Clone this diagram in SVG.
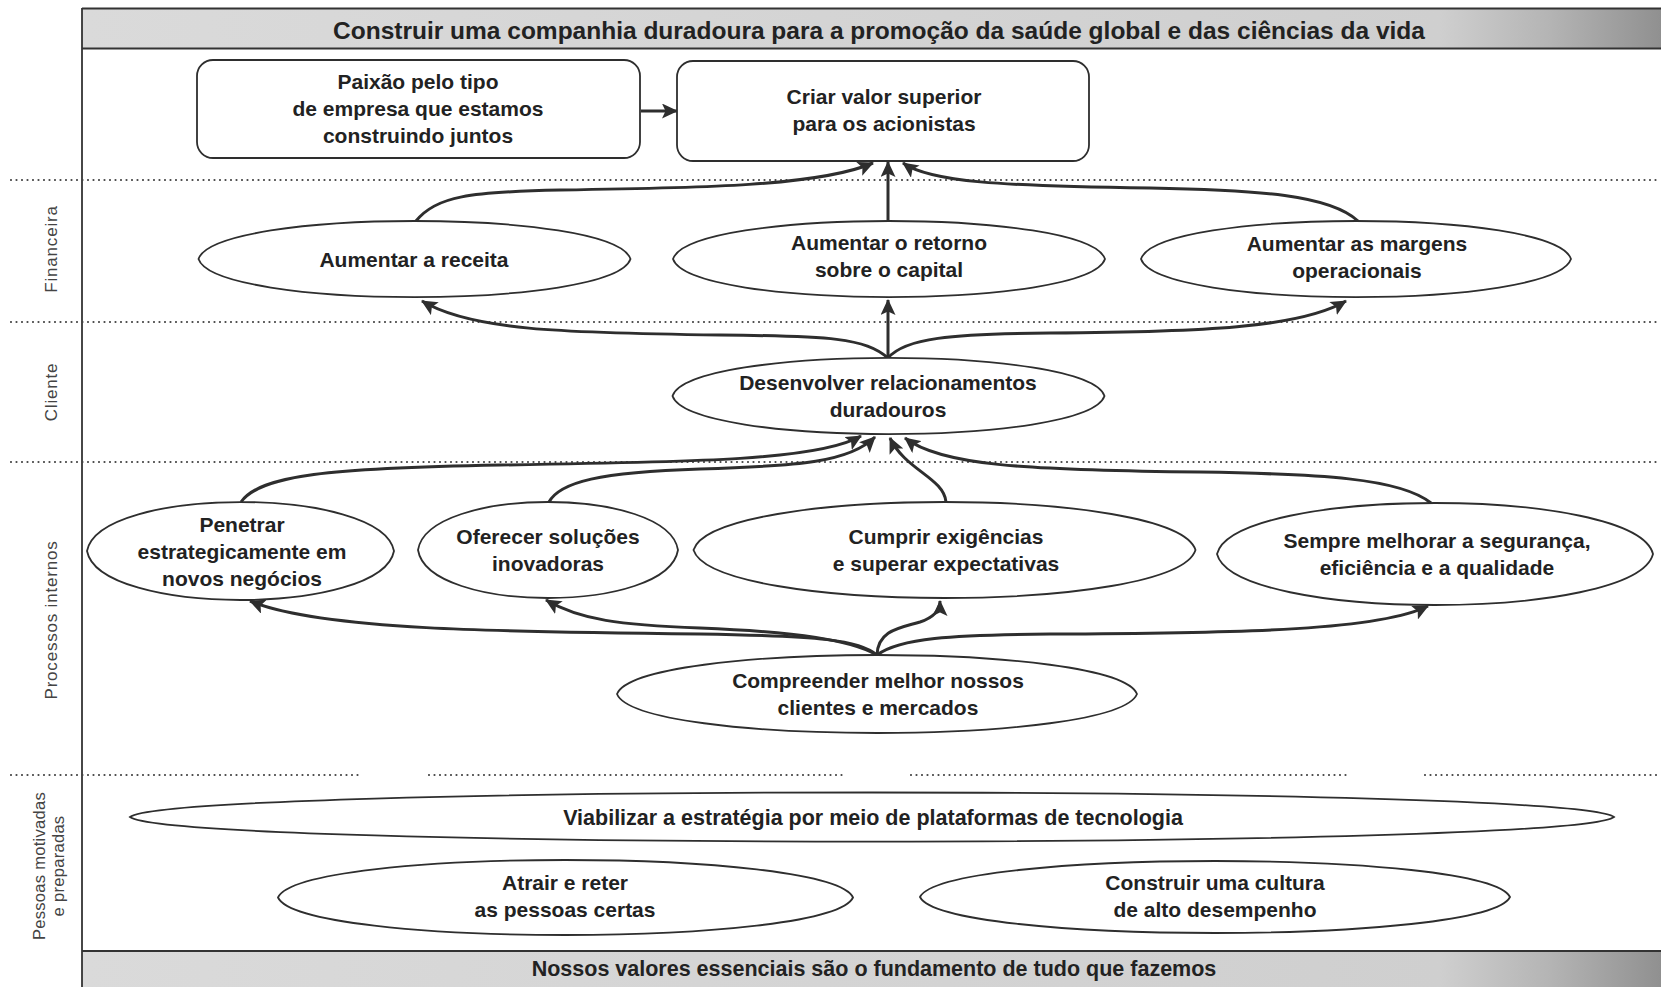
<svg xmlns="http://www.w3.org/2000/svg" width="1661" height="987" viewBox="0 0 1661 987">
<defs>
<linearGradient id="band" x1="0" y1="0" x2="1" y2="0">
<stop offset="0" stop-color="#dadada"/>
<stop offset="0.86" stop-color="#cfcfcf"/>
<stop offset="0.93" stop-color="#b4b4b4"/>
<stop offset="1" stop-color="#909090"/>
</linearGradient>
<marker id="ah" markerUnits="userSpaceOnUse" markerWidth="17" markerHeight="15" refX="15" refY="7.5" orient="auto">
<path d="M0,0 L16,7.5 L0,15 L3.5,7.5 Z" fill="#2e2e2e"/>
</marker>
<style>
.node{fill:#fff;stroke:#2e2e2e;stroke-width:1.8}
.t{font-family:"Liberation Sans",Arial,sans-serif;font-weight:bold;font-size:21px;fill:#222;text-anchor:middle}
.lab{font-family:"Liberation Sans",Arial,sans-serif;font-size:17px;letter-spacing:0.8px;fill:#444;text-anchor:middle}
.dot{stroke:#444;stroke-width:2.2;stroke-linecap:round;stroke-dasharray:0 5.5;fill:none}
.c{fill:none;stroke:#2e2e2e;stroke-width:3;marker-end:url(#ah)}
</style>
</defs>
<rect width="1661" height="987" fill="#fff"/>
<g id="bands">
<rect x="82" y="8.5" width="1579" height="40" fill="url(#band)"/>
<line x1="82" y1="8.5" x2="1661" y2="8.5" stroke="#333" stroke-width="2"/>
<line x1="82" y1="48.5" x2="1661" y2="48.5" stroke="#333" stroke-width="2"/>
<text class="t" x="879" y="39" style="font-size:24.5px">Construir uma companhia duradoura para a promoção da saúde global e das ciências da vida</text>
<rect x="82" y="951" width="1579" height="36" fill="url(#band)"/>
<line x1="82" y1="951" x2="1661" y2="951" stroke="#333" stroke-width="2"/>
<text class="t" x="874" y="976" style="font-size:21.5px">Nossos valores essenciais são o fundamento de tudo que fazemos</text>
<line x1="82" y1="8" x2="82" y2="987" stroke="#333" stroke-width="1.8"/>
</g>
<g id="dividers">
<line class="dot" x1="11" y1="180" x2="1661" y2="180"/>
<line class="dot" x1="11" y1="322" x2="1661" y2="322"/>
<line class="dot" x1="11" y1="462" x2="1661" y2="462"/>
<line class="dot" x1="11" y1="775" x2="360" y2="775"/>
<line class="dot" x1="429" y1="775" x2="842" y2="775"/>
<line class="dot" x1="911" y1="775" x2="1346" y2="775"/>
<line class="dot" x1="1425" y1="775" x2="1661" y2="775"/>
</g>
<g id="labels">
<text class="lab" transform="translate(57,249) rotate(-90)">Financeira</text>
<text class="lab" transform="translate(57,392) rotate(-90)">Cliente</text>
<text class="lab" transform="translate(57,620) rotate(-90)">Processos internos</text>
<text class="lab" transform="translate(45,866) rotate(-90)" style="letter-spacing:0.3px;font-size:16.5px">Pessoas motivadas</text>
<text class="lab" transform="translate(64,866) rotate(-90)" style="letter-spacing:0.3px;font-size:16.5px">e preparadas</text>
</g>
<g id="connectors">
<line class="c" x1="641" y1="111" x2="677" y2="111"/>
<path class="c" d="M416,221 C436,196 470,192 560,190 C700,188 820,186 873,163"/>
<path class="c" d="M888,220 L888,162"/>
<path class="c" d="M1358,221 C1330,195 1260,190 1150,188 C1000,186 930,182 903,163"/>
<path class="c" d="M888,358 C865,338 830,336 720,335 C560,333 470,330 422,301"/>
<path class="c" d="M888,358 L888,300"/>
<path class="c" d="M888,358 C905,338 950,334 1050,333 C1200,332 1300,328 1346,301"/>
<path class="c" d="M241,502 C260,475 330,468 500,465 C700,462 820,460 861,436"/>
<path class="c" d="M549,502 C560,482 600,472 700,469 C800,466 850,462 875,437"/>
<path class="c" d="M946,502 C944,478 905,470 890,438"/>
<path class="c" d="M1431,503 C1400,478 1320,474 1200,472 C1020,470 940,465 905,438"/>
<path class="c" d="M877,655 C860,640 820,636 700,634 C500,632 320,630 250,601"/>
<path class="c" d="M877,655 C850,640 800,632 700,628 C620,625 580,620 546,600"/>
<path class="c" d="M877,655 C878,630 900,628 920,622 C935,617 940,610 940,601"/>
<path class="c" d="M877,655 C900,638 950,635 1050,634 C1250,633 1380,630 1428,606"/>
</g>
<g id="n-paixao">
<rect class="node" x="197" y="60" width="443" height="98" rx="16"/>
<text class="t" x="418" y="89">Paixão pelo tipo</text>
<text class="t" x="418" y="116">de empresa que estamos</text>
<text class="t" x="418" y="143">construindo juntos</text>
</g>
<g id="n-criar">
<rect class="node" x="677" y="61" width="412" height="100" rx="16"/>
<text class="t" x="884" y="104">Criar valor superior</text>
<text class="t" x="884" y="131">para os acionistas</text>
</g>
<g id="n-receita">
<path class="node" d="M198.5,259 C215.8,208.3 613.2,208.3 630.5,259 C613.2,309.7 215.8,309.7 198.5,259Z"/>
<text class="t" x="414" y="267">Aumentar a receita</text>
</g>
<g id="n-retorno">
<path class="node" d="M673,259 C690.3,208.3 1087.7,208.3 1105,259 C1087.7,309.7 690.3,309.7 673,259Z"/>
<text class="t" x="889" y="250">Aumentar o retorno</text>
<text class="t" x="889" y="277">sobre o capital</text>
</g>
<g id="n-margens">
<path class="node" d="M1141,259 C1158.2,208.3 1553.8,208.3 1571,259 C1553.8,309.7 1158.2,309.7 1141,259Z"/>
<text class="t" x="1357" y="251">Aumentar as margens</text>
<text class="t" x="1357" y="278">operacionais</text>
</g>
<g id="n-desenvolver">
<path class="node" d="M672.5,396 C689.8,345.3 1087.2,345.3 1104.5,396 C1087.2,446.7 689.8,446.7 672.5,396Z"/>
<text class="t" x="888" y="390">Desenvolver relacionamentos</text>
<text class="t" x="888" y="417">duradouros</text>
</g>
<g id="n-penetrar">
<path class="node" d="M87,551 C99.3,485.7 381.7,485.7 394,551 C381.7,616.3 99.3,616.3 87,551Z"/>
<text class="t" x="242" y="532">Penetrar</text>
<text class="t" x="242" y="559">estrategicamente em</text>
<text class="t" x="242" y="586">novos negócios</text>
</g>
<g id="n-oferecer">
<path class="node" d="M418,550 C428.4,486 667.6,486 678,550 C667.6,614 428.4,614 418,550Z"/>
<text class="t" x="548" y="544">Oferecer soluções</text>
<text class="t" x="548" y="571">inovadoras</text>
</g>
<g id="n-cumprir">
<path class="node" d="M693.5,550 C713.6,486 1175.4,486 1195.5,550 C1175.4,614 713.6,614 693.5,550Z"/>
<text class="t" x="946" y="544">Cumprir exigências</text>
<text class="t" x="946" y="571">e superar expectativas</text>
</g>
<g id="n-sempre">
<path class="node" d="M1217,554 C1234.4,486 1635.6,486 1653,554 C1635.6,622 1234.4,622 1217,554Z"/>
<text class="t" x="1437" y="548">Sempre melhorar a segurança,</text>
<text class="t" x="1437" y="575">eficiência e a qualidade</text>
</g>
<g id="n-compreender">
<path class="node" d="M617,694 C637.8,642 1116.2,642 1137,694 C1116.2,746 637.8,746 617,694Z"/>
<text class="t" x="878" y="688">Compreender melhor nossos</text>
<text class="t" x="878" y="715">clientes e mercados</text>
</g>
<g id="n-viabilizar">
<path class="node" d="M130,817 C174.5,784.3 1569.5,784.3 1614,817 C1569.5,849.7 174.5,849.7 130,817Z"/>
<text class="t" x="873" y="825" style="font-size:21.5px">Viabilizar a estratégia por meio de plataformas de tecnologia</text>
</g>
<g id="n-atrair">
<path class="node" d="M278,897.5 C301,847.5 830,847.5 853,897.5 C830,947.5 301,947.5 278,897.5Z"/>
<text class="t" x="565" y="890">Atrair e reter</text>
<text class="t" x="565" y="917">as pessoas certas</text>
</g>
<g id="n-cultura">
<path class="node" d="M920,897 C943.6,849 1486.4,849 1510,897 C1486.4,945 943.6,945 920,897Z"/>
<text class="t" x="1215" y="890">Construir uma cultura</text>
<text class="t" x="1215" y="917">de alto desempenho</text>
</g>
</svg>
